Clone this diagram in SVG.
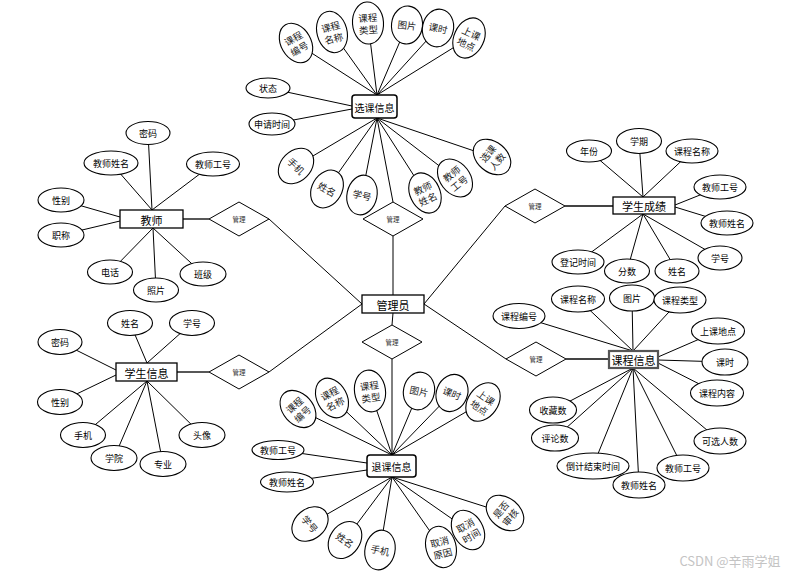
<svg xmlns="http://www.w3.org/2000/svg" width="800" height="576" viewBox="0 0 800 576">
<style>
text{font-family:"Noto Sans CJK SC","Liberation Sans",sans-serif;fill:#000;text-anchor:middle;dominant-baseline:central}
.a ellipse{fill:#fff;stroke:#000;stroke-width:1.1}
.a text{font-size:9px}
.r ellipse{fill:#fff;stroke:#000;stroke-width:1.1}
.r text{font-size:9.5px;fill:#222}
.e rect{fill:#fff;stroke:#000;stroke-width:1.3}
.e text{font-size:11px}
.d polygon{fill:#fff;stroke:#000;stroke-width:1}
.d text{font-size:6.5px;fill:#333}
#links line{stroke:#000;stroke-width:1}
#links .t{stroke:#444;stroke-width:1.8}
</style>
<rect width="800" height="576" fill="#fff"/>
<g id="links">
<line x1="296" y1="43" x2="377" y2="95"/><line x1="332" y1="32" x2="377" y2="95"/><line x1="368" y1="23" x2="377" y2="95"/><line x1="407" y1="25" x2="377" y2="95"/><line x1="438" y1="28" x2="377" y2="95"/><line x1="469" y1="38" x2="377" y2="95"/>
<line x1="268" y1="88" x2="352" y2="106"/><line x1="272" y1="124" x2="352" y2="109"/>
<line x1="296" y1="166" x2="377" y2="118"/><line x1="327" y1="189" x2="377" y2="118"/><line x1="362" y1="195" x2="377" y2="118"/><line x1="393" y1="202" x2="377" y2="118"/><line x1="425" y1="193" x2="377" y2="118"/><line x1="455" y1="178" x2="377" y2="118"/><line x1="492" y1="157" x2="377" y2="118"/>
<line x1="393" y1="236" x2="393" y2="295"/>
<line x1="393" y1="313" x2="392" y2="325"/>
<line x1="392" y1="359" x2="392" y2="455"/>
<line x1="269" y1="219" x2="362" y2="304"/><line x1="269" y1="372" x2="362" y2="304"/>
<line x1="424" y1="304" x2="505" y2="206"/><line x1="424" y1="304" x2="506" y2="359"/>
<line class="t" x1="183" y1="219" x2="209" y2="219"/>
<line class="t" x1="177" y1="372" x2="209" y2="372"/>
<line class="t" x1="565" y1="206" x2="613" y2="206"/>
<line class="t" x1="566" y1="359" x2="609" y2="359"/>
<line x1="148" y1="133" x2="152" y2="210"/><line x1="111" y1="163" x2="152" y2="210"/><line x1="213" y1="164" x2="152" y2="210"/>
<line x1="61" y1="200" x2="120" y2="217"/><line x1="61" y1="235" x2="120" y2="221"/>
<line x1="110" y1="272" x2="153" y2="228"/><line x1="156" y1="290" x2="153" y2="228"/><line x1="203" y1="274" x2="153" y2="228"/>
<line x1="130" y1="323" x2="147" y2="363"/><line x1="192" y1="323" x2="147" y2="363"/>
<line x1="60" y1="342" x2="116" y2="370"/><line x1="60" y1="402" x2="116" y2="375"/>
<line x1="83" y1="435" x2="147" y2="381"/><line x1="114" y1="458" x2="147" y2="381"/><line x1="163" y1="464" x2="147" y2="381"/><line x1="202" y1="435" x2="147" y2="381"/>
<line x1="589" y1="151" x2="643" y2="197"/><line x1="639" y1="141" x2="643" y2="197"/><line x1="692" y1="151" x2="643" y2="197"/>
<line x1="720" y1="187" x2="675" y2="205"/><line x1="727" y1="223" x2="675" y2="207"/>
<line x1="578" y1="262" x2="643" y2="214"/><line x1="627" y1="271" x2="643" y2="214"/><line x1="677" y1="271" x2="643" y2="214"/><line x1="720" y1="258" x2="643" y2="214"/>
<line x1="519" y1="316" x2="633" y2="351"/><line x1="578" y1="299" x2="633" y2="351"/><line x1="632" y1="298" x2="633" y2="351"/><line x1="680" y1="300" x2="633" y2="351"/>
<line x1="718" y1="331" x2="658" y2="357"/><line x1="725" y1="362" x2="658" y2="360"/><line x1="717" y1="393" x2="658" y2="363"/>
<line x1="553" y1="410" x2="633" y2="368"/><line x1="555" y1="438" x2="633" y2="368"/><line x1="593" y1="466" x2="633" y2="368"/><line x1="639" y1="485" x2="633" y2="368"/><line x1="683" y1="468" x2="633" y2="368"/><line x1="720" y1="441" x2="633" y2="368"/>
<line x1="298" y1="409" x2="392" y2="455"/><line x1="332" y1="398" x2="392" y2="455"/><line x1="370" y1="391" x2="392" y2="455"/><line x1="419" y1="391" x2="392" y2="455"/><line x1="452" y1="393" x2="392" y2="455"/><line x1="483" y1="402" x2="392" y2="455"/>
<line x1="278" y1="450" x2="367" y2="463"/><line x1="287" y1="482" x2="367" y2="470"/>
<line x1="310" y1="524" x2="392" y2="477"/><line x1="345" y1="540" x2="392" y2="477"/><line x1="380" y1="550" x2="392" y2="477"/><line x1="441" y1="547" x2="392" y2="477"/><line x1="468" y1="530" x2="392" y2="477"/><line x1="505" y1="513" x2="392" y2="477"/>
</g>

<g id="guanliyuan" class="e"><rect x="362" y="295" width="62" height="18"/><text x="393" y="304.5">管理员</text></g>
<g id="jiaoshi" class="e"><rect x="120" y="210" width="63" height="18"/><text x="151.5" y="219.5">教师</text></g>
<g id="xueshengxinxi" class="e"><rect x="116" y="363" width="61" height="18"/><text x="146.5" y="372.5">学生信息</text></g>
<g id="xueshengchengji" class="e"><rect x="613" y="197" width="62" height="17"/><text x="644" y="206">学生成绩</text></g>
<g id="kechengxinxi" class="e"><rect x="609" y="351" width="49" height="17" style="stroke:#555;stroke-width:2.2"/><text x="633.5" y="360">课程信息</text></g>
<g id="xuankexinxi" class="e"><rect x="352" y="95" width="45" height="23" rx="3" style="stroke-width:1.5"/><text x="374.5" y="107" style="font-size:10px">选课信息</text></g>
<g id="tuikexinxi" class="e"><rect x="367" y="455" width="49" height="22" rx="3" style="stroke-width:1.5"/><text x="391.5" y="466.5" style="font-size:10px">退课信息</text></g>

<g id="rel-top" class="d"><polygon points="393,202 423,219 393,236 363,219"/><text x="393" y="219">管理</text></g>
<g id="rel-bottom" class="d"><polygon points="392,325 422,342 392,359 362,342"/><text x="392" y="342">管理</text></g>
<g id="rel-jiaoshi" class="d"><polygon points="239,202 269,219 239,236 209,219"/><text x="239" y="219">管理</text></g>
<g id="rel-xuesheng" class="d"><polygon points="239,355 269,372 239,389 209,372"/><text x="239" y="372">管理</text></g>
<g id="rel-chengji" class="d"><polygon points="535,189 565,206 535,223 505,206"/><text x="535" y="206">管理</text></g>
<g id="rel-kecheng" class="d"><polygon points="536,342 566,359 536,376 506,359"/><text x="536" y="359">管理</text></g>

<g id="xk-kcbh" class="r" transform="translate(296,43) rotate(-30)"><ellipse rx="15" ry="21"/><text y="-5.5">课程</text><text y="6.5">编号</text></g>
<g id="xk-kcmc" class="r" transform="translate(332,32) rotate(-15)"><ellipse rx="15" ry="21"/><text y="-5.5">课程</text><text y="6.5">名称</text></g>
<g id="xk-kclx" class="r" transform="translate(368,23) rotate(-4)"><ellipse rx="15.5" ry="21"/><text y="-5.5">课程</text><text y="6.5">类型</text></g>
<g id="xk-tp" class="r" transform="translate(407,25) rotate(6)"><ellipse rx="15.5" ry="19"/><text>图片</text></g>
<g id="xk-ks" class="r" transform="translate(438,28) rotate(12)"><ellipse rx="15.5" ry="19"/><text>课时</text></g>
<g id="xk-skdd" class="r" transform="translate(469,38) rotate(25)"><ellipse rx="15" ry="21"/><text y="-5.5">上课</text><text y="6.5">地点</text></g>
<g id="xk-zt" class="a"><ellipse cx="268" cy="88" rx="22" ry="10"/><text x="268" y="88">状态</text></g>
<g id="xk-sqsj" class="a"><ellipse cx="272" cy="124" rx="23" ry="11"/><text x="272" y="124">申请时间</text></g>
<g id="xk-sj" class="r" transform="translate(296,166) rotate(45)"><ellipse rx="15" ry="20"/><text>手机</text></g>
<g id="xk-xm" class="r" transform="translate(327,189) rotate(30)"><ellipse rx="15" ry="20"/><text>姓名</text></g>
<g id="xk-xh" class="r" transform="translate(362,195) rotate(12)"><ellipse rx="15" ry="20"/><text>学号</text></g>
<g id="xk-jsxm" class="r" transform="translate(425,193) rotate(-25)"><ellipse rx="15" ry="21"/><text y="-5.5">教师</text><text y="6.5">姓名</text></g>
<g id="xk-jsgh" class="r" transform="translate(455,178) rotate(-38)"><ellipse rx="15" ry="21"/><text y="-5.5">教师</text><text y="6.5">工号</text></g>
<g id="xk-xkrs" class="r" transform="translate(492,157) rotate(-50)"><ellipse rx="15" ry="21"/><text y="-5.5">选课</text><text y="6.5">人数</text></g>

<g id="js-mm" class="a"><ellipse cx="148" cy="133" rx="22" ry="11.5"/><text x="148" y="133">密码</text></g>
<g id="js-jsxm" class="a"><ellipse cx="111" cy="163" rx="27" ry="12"/><text x="111" y="163">教师姓名</text></g>
<g id="js-jsgh" class="a"><ellipse cx="213" cy="164" rx="26.5" ry="12"/><text x="213" y="164">教师工号</text></g>
<g id="js-xb" class="a"><ellipse cx="61" cy="200" rx="23" ry="12"/><text x="61" y="200">性别</text></g>
<g id="js-zc" class="a"><ellipse cx="61" cy="235" rx="23" ry="12"/><text x="61" y="235">职称</text></g>
<g id="js-dh" class="a"><ellipse cx="110" cy="272" rx="22.5" ry="12"/><text x="110" y="272">电话</text></g>
<g id="js-zp" class="a"><ellipse cx="156" cy="290" rx="22.5" ry="12"/><text x="156" y="290">照片</text></g>
<g id="js-bj" class="a"><ellipse cx="203" cy="274" rx="23" ry="12"/><text x="203" y="274">班级</text></g>

<g id="xs-xm" class="a"><ellipse cx="130" cy="323" rx="22.5" ry="12.5"/><text x="130" y="323">姓名</text></g>
<g id="xs-xh" class="a"><ellipse cx="192" cy="323" rx="22.5" ry="12.5"/><text x="192" y="323">学号</text></g>
<g id="xs-mm" class="a"><ellipse cx="60" cy="342" rx="22" ry="12.5"/><text x="60" y="342">密码</text></g>
<g id="xs-xb" class="a"><ellipse cx="60" cy="402" rx="22.5" ry="12.5"/><text x="60" y="402">性别</text></g>
<g id="xs-sj" class="a"><ellipse cx="83" cy="435" rx="22.5" ry="12.5"/><text x="83" y="435">手机</text></g>
<g id="xs-xy" class="a"><ellipse cx="114" cy="458" rx="23" ry="12.5"/><text x="114" y="458">学院</text></g>
<g id="xs-zy" class="a"><ellipse cx="163" cy="464" rx="23" ry="12.5"/><text x="163" y="464">专业</text></g>
<g id="xs-tx" class="a"><ellipse cx="202" cy="435" rx="23" ry="12.5"/><text x="202" y="435">头像</text></g>

<g id="cj-nf" class="a"><ellipse cx="589" cy="151" rx="22.5" ry="11"/><text x="589" y="151">年份</text></g>
<g id="cj-xq" class="a"><ellipse cx="639" cy="141" rx="22.5" ry="12.5"/><text x="639" y="141">学期</text></g>
<g id="cj-kcmc" class="a"><ellipse cx="692" cy="151" rx="26" ry="12"/><text x="692" y="151">课程名称</text></g>
<g id="cj-jsgh" class="a"><ellipse cx="720" cy="187" rx="26" ry="12"/><text x="720" y="187">教师工号</text></g>
<g id="cj-jsxm" class="a"><ellipse cx="727" cy="223" rx="26" ry="12"/><text x="727" y="223">教师姓名</text></g>
<g id="cj-xh" class="a"><ellipse cx="720" cy="258" rx="22" ry="12"/><text x="720" y="258">学号</text></g>
<g id="cj-xm" class="a"><ellipse cx="677" cy="271" rx="22" ry="12"/><text x="677" y="271">姓名</text></g>
<g id="cj-fs" class="a"><ellipse cx="627" cy="271" rx="22.5" ry="12"/><text x="627" y="271">分数</text></g>
<g id="cj-djsj" class="a"><ellipse cx="578" cy="262" rx="26" ry="12"/><text x="578" y="262">登记时间</text></g>

<g id="kc-kcbh" class="a"><ellipse cx="519" cy="316" rx="26" ry="12.5"/><text x="519" y="316">课程编号</text></g>
<g id="kc-kcmc" class="a"><ellipse cx="578" cy="299" rx="26.5" ry="13"/><text x="578" y="299">课程名称</text></g>
<g id="kc-tp" class="a"><ellipse cx="632" cy="298" rx="22.5" ry="13"/><text x="632" y="298">图片</text></g>
<g id="kc-kclx" class="a"><ellipse cx="680" cy="300" rx="26" ry="13"/><text x="680" y="300">课程类型</text></g>
<g id="kc-skdd" class="a"><ellipse cx="718" cy="331" rx="26.5" ry="13"/><text x="718" y="331">上课地点</text></g>
<g id="kc-ks" class="a"><ellipse cx="725" cy="362" rx="23" ry="13"/><text x="725" y="362">课时</text></g>
<g id="kc-kcnr" class="a"><ellipse cx="717" cy="393" rx="26.5" ry="13"/><text x="717" y="393">课程内容</text></g>
<g id="kc-kxrs" class="a"><ellipse cx="720" cy="441" rx="26" ry="13"/><text x="720" y="441">可选人数</text></g>
<g id="kc-jsgh" class="a"><ellipse cx="683" cy="468" rx="26" ry="13"/><text x="683" y="468">教师工号</text></g>
<g id="kc-jsxm" class="a"><ellipse cx="639" cy="485" rx="26" ry="13"/><text x="639" y="485">教师姓名</text></g>
<g id="kc-djsjssj" class="a"><ellipse cx="593" cy="466" rx="36" ry="13"/><text x="593" y="466">倒计结束时间</text></g>
<g id="kc-pls" class="a"><ellipse cx="555" cy="438" rx="23.5" ry="13"/><text x="555" y="438">评论数</text></g>
<g id="kc-scs" class="a"><ellipse cx="553" cy="410" rx="23.5" ry="13"/><text x="553" y="410">收藏数</text></g>

<g id="tk-kcbh" class="r" transform="translate(298,409) rotate(-42)"><ellipse rx="15" ry="21"/><text y="-5.5">课程</text><text y="6.5">编号</text></g>
<g id="tk-kcmc" class="r" transform="translate(332,398) rotate(-28)"><ellipse rx="15" ry="21"/><text y="-5.5">课程</text><text y="6.5">名称</text></g>
<g id="tk-kclx" class="r" transform="translate(370,391) rotate(-8)"><ellipse rx="15.5" ry="21"/><text y="-5.5">课程</text><text y="6.5">类型</text></g>
<g id="tk-tp" class="r" transform="translate(419,391) rotate(12)"><ellipse rx="15.5" ry="19"/><text>图片</text></g>
<g id="tk-ks" class="r" transform="translate(452,393) rotate(22)"><ellipse rx="15.5" ry="19"/><text>课时</text></g>
<g id="tk-skdd" class="r" transform="translate(483,402) rotate(35)"><ellipse rx="15" ry="21"/><text y="-5.5">上课</text><text y="6.5">地点</text></g>
<g id="tk-jsgh" class="a"><ellipse cx="278" cy="450" rx="26" ry="9.5"/><text x="278" y="450">教师工号</text></g>
<g id="tk-jsxm" class="a"><ellipse cx="287" cy="482" rx="26.5" ry="10"/><text x="287" y="482">教师姓名</text></g>
<g id="tk-xh" class="r" transform="translate(310,524) rotate(50)"><ellipse rx="15" ry="20"/><text>学号</text></g>
<g id="tk-xm" class="r" transform="translate(345,540) rotate(35)"><ellipse rx="15" ry="20"/><text>姓名</text></g>
<g id="tk-sj" class="r" transform="translate(380,550) rotate(12)"><ellipse rx="15" ry="20"/><text>手机</text></g>
<g id="tk-qxyy" class="r" transform="translate(441,547) rotate(-15)"><ellipse rx="15" ry="21"/><text y="-5.5">取消</text><text y="6.5">原因</text></g>
<g id="tk-qxsj" class="r" transform="translate(468,530) rotate(-30)"><ellipse rx="15" ry="21"/><text y="-5.5">取消</text><text y="6.5">时间</text></g>
<g id="tk-sfsh" class="r" transform="translate(505,513) rotate(-50)"><ellipse rx="15" ry="21"/><text y="-5.5">是否</text><text y="6.5">审核</text></g>

<text x="730" y="560" style="font-size:13px;fill:#c4c4c4">CSDN @辛雨学姐</text>
</svg>
